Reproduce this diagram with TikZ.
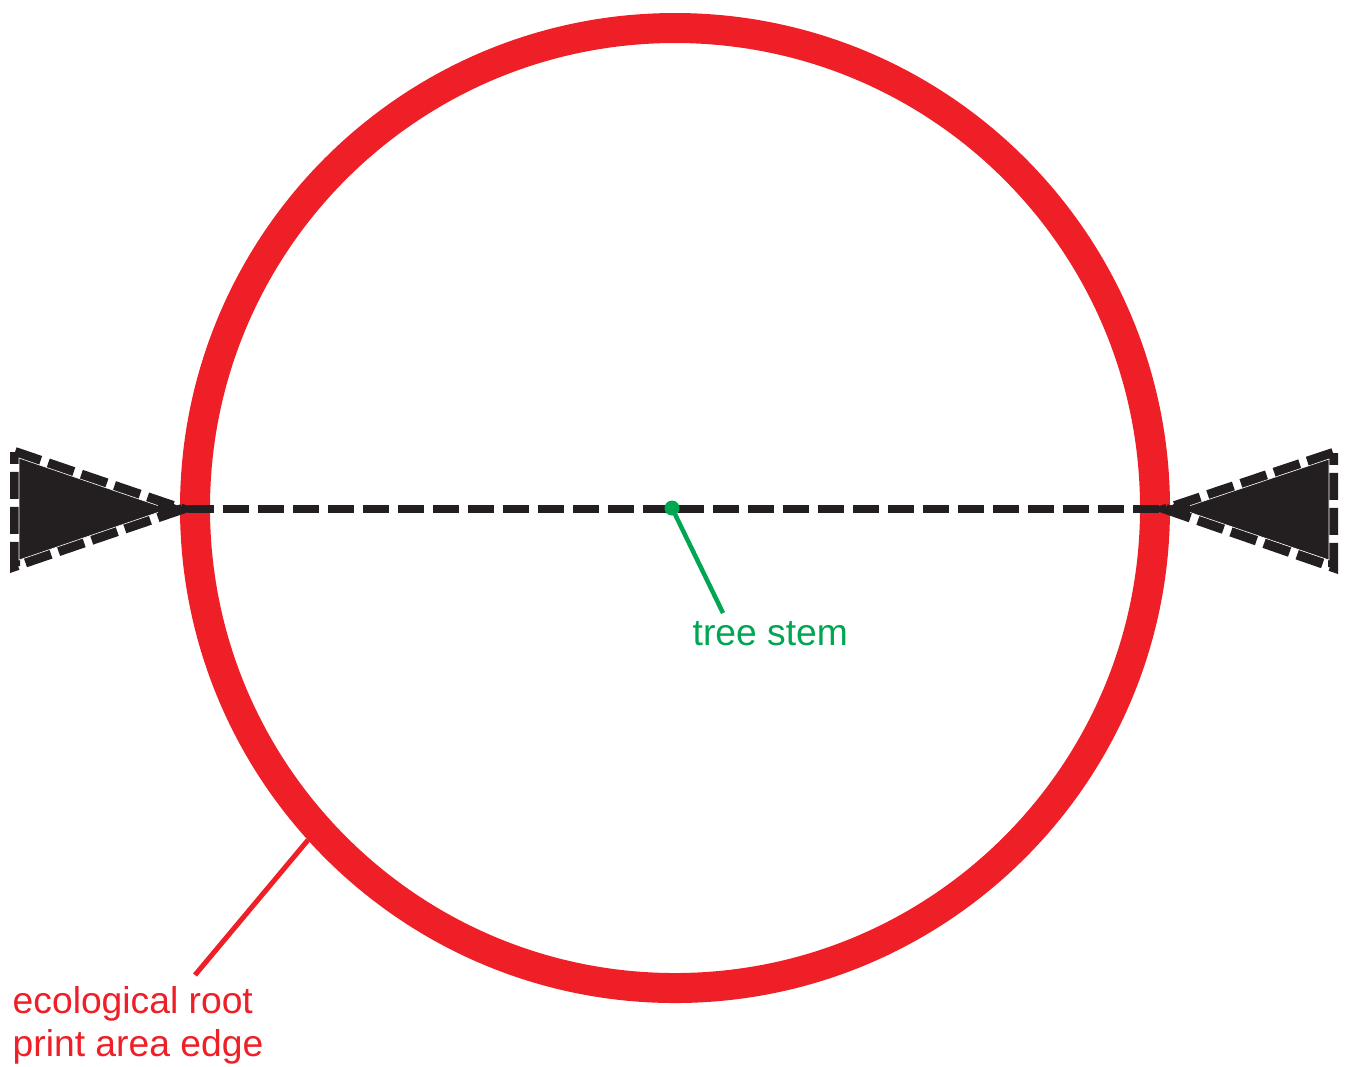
\documentclass[tikz,border=0pt]{standalone}
\usepackage{fontspec}
\setmainfont{Liberation Sans}
\usetikzlibrary{arrows.meta}
\definecolor{rootred}{RGB}{238,31,38}
\definecolor{stemgreen}{RGB}{0,166,81}
\definecolor{inkblack}{RGB}{35,31,32}
\tikzset{
  ring/.style={draw=rootred,line width=3mm},
  diameter/.style={draw=inkblack,line width=0.8mm,dash pattern=on 2.6mm off 0.9mm},
  wedgeedge/.style={draw=inkblack,line width=1mm,dash pattern=on 2.7mm off 0.8mm},
  wedgefill/.style={fill=inkblack,draw=white,line width=0.06mm},
  tipline/.style={draw=inkblack,line width=0.8mm,-{Latex[length=2.4mm,width=2.2mm]}},
  labeltext/.style={font=\fontsize{10.6pt}{12.2pt}\selectfont,inner sep=0pt}
}
\begin{document}
\begin{tikzpicture}[x=0.1mm,y=-0.1mm]
  \useasboundingbox (0,0) rectangle (1345,1066);
  \coordinate (stem) at (672,508);
  \coordinate (west) at (188,509);
  \coordinate (east) at (1160,509);
  \draw[ring] (675,508) circle[radius=480];
  \draw[wedgeedge] (15,452)--(182,509)--(15,566)--cycle;
  \draw[wedgefill] (19,458)--(168,509)--(19,560)--cycle;
  \draw[wedgeedge] (1333,453)--(1166,509)--(1333,567)--cycle;
  \draw[wedgefill] (1329,459)--(1180,509)--(1329,560)--cycle;
  \draw[diameter] (west)--(east);
  \draw[tipline] (158,509)--(west);
  \draw[tipline] (1190,509)--(east);
  \node[labeltext,text=stemgreen,anchor=base west] (stemlabel) at (692,645) {tree stem};
  \coordinate (stemend) at (723,613);
  \draw[stemgreen,line width=0.45mm] (stem)--(stemend);
  \fill[stemgreen] (stem) circle[radius=7.5];
  \node[labeltext,text=rootred,anchor=north west,align=left] (rootlabel) at (12,986) {ecological root\\print area edge};
  \coordinate (ringpoint) at (308,840);
  \coordinate (rootend) at (195,975);
  \draw[rootred,line width=0.5mm] (ringpoint)--(rootend);
\end{tikzpicture}
\end{document}
